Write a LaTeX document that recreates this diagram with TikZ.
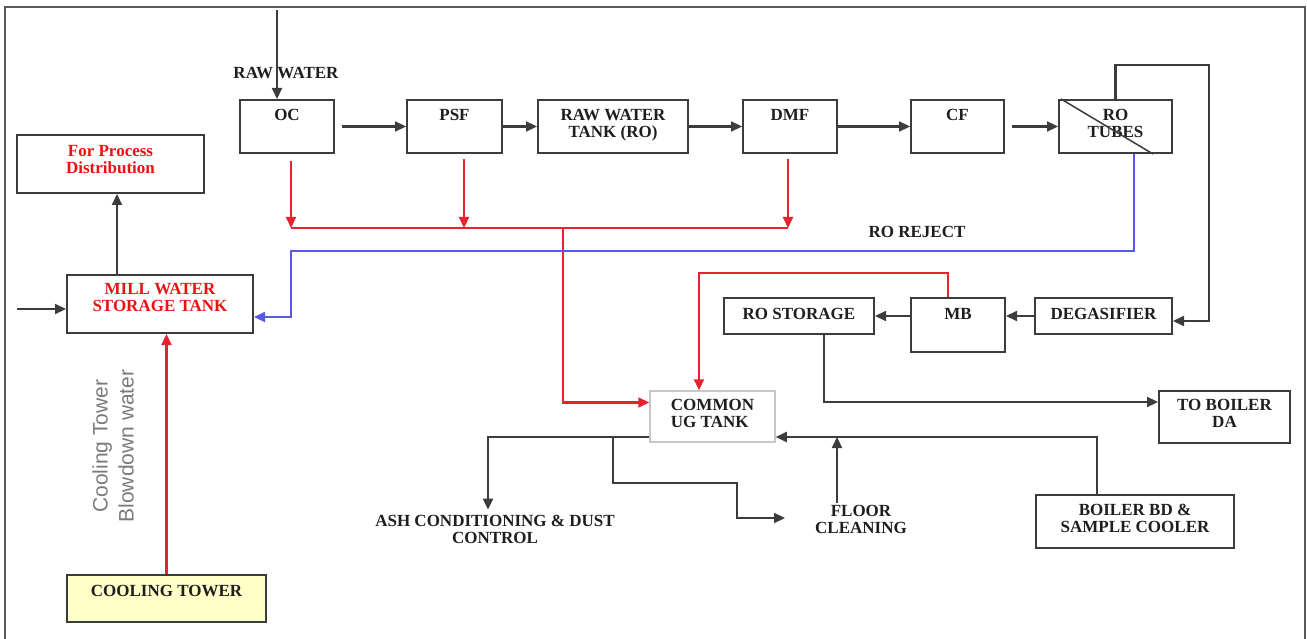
\documentclass[tikz,border=0pt]{standalone}
\usepackage{fontspec}
\setmainfont{Liberation Serif}
\setsansfont{Liberation Sans}
\usepackage{xcolor}
\usepackage{tikz}
\usetikzlibrary{calc,arrows.meta,positioning}
\definecolor{wtLine}{RGB}{60,60,60}
\definecolor{wtRed}{RGB}{232,34,46}
\definecolor{wtBlue}{RGB}{88,88,226}
\definecolor{wtText}{RGB}{30,30,30}
\definecolor{wtRedText}{RGB}{236,18,18}
\definecolor{wtYellow}{RGB}{255,255,200}
\definecolor{wtFrame}{RGB}{90,90,90}

\begin{document}
\begin{tikzpicture}[x=1pt,y=-1pt,
  blk/.style={draw=wtLine, line width=2pt, inner sep=0pt, fill=white},
  ttl/.style={anchor=north, label distance=-10pt, inner sep=0pt, align=center, text=wtText,
    font=\bfseries\fontsize{17}{17}\selectfont},
  txt/.style={inner sep=2pt, align=center, text=wtText, font=\bfseries\fontsize{17}{17}\selectfont},
  arr/.style={draw=wtLine, line width=2.2pt, -{Triangle[length=11pt,width=10pt]}},
  redarr/.style={draw=wtRed, line width=2.2pt, -{Triangle[length=11pt,width=10pt]}},
  bluearr/.style={draw=wtBlue, line width=2.2pt, -{Triangle[length=11pt,width=10pt]}}]
\useasboundingbox (0,0) rectangle (1307,639);
\draw[wtFrame, line width=2pt] (5,639) -- (5,7) -- (1305,7) -- (1305,639);

\node[blk, minimum width=94pt, minimum height=53pt, label={[ttl]north:OC}] (oc) at (287,126.5) {};
\node[blk, minimum width=95pt, minimum height=53pt, label={[ttl]north:PSF}] (psf) at (454.5,126.5) {};
\node[blk, minimum width=150pt, minimum height=53pt, label={[ttl]north:RAW WATER\\TANK (RO)}] (rwt) at (613,126.5) {};
\node[blk, minimum width=94pt, minimum height=53pt, label={[ttl]north:DMF}] (dmf) at (790,126.5) {};
\node[blk, minimum width=93pt, minimum height=53pt, label={[ttl]north:CF}] (cf) at (957.5,126.5) {};
\node[blk, minimum width=113pt, minimum height=53pt, label={[ttl]north:RO\\TUBES}] (rot) at (1115.5,126.5) {};
\draw[wtLine, line width=1.5pt] ([xshift=3pt]rot.north west) -- ([xshift=-20pt]rot.south east);

\node[blk, minimum width=187pt, minimum height=58pt, label={[ttl, label distance=-11pt, text=wtRedText]north:For Process\\Distribution}] (fpd) at (110.5,164) {};
\node[blk, minimum width=186pt, minimum height=58pt, label={[ttl, label distance=-9pt, text=wtRedText]north:MILL WATER\\STORAGE TANK}] (mill) at (160,304) {};
\node[blk, fill=wtYellow, minimum width=199pt, minimum height=47pt, label={[ttl, label distance=-11pt]north:COOLING TOWER}] (ct) at (166.5,598.5) {};

\node[blk, minimum width=137pt, minimum height=36pt, label={[ttl, label distance=-11pt]north:DEGASIFIER}] (deg) at (1103.5,316) {};
\node[blk, minimum width=94pt, minimum height=54pt, label={[ttl, label distance=-11pt]north:MB}] (mb) at (958,325) {};
\node[blk, minimum width=150pt, minimum height=36pt, label={[ttl, label distance=-11pt]north:RO STORAGE}] (ros) at (799,316) {};
\node[blk, draw=black!22, line width=1.5pt, minimum width=125pt, minimum height=51pt, label={[ttl, align=left, label distance=-9pt]north:COMMON\\UG TANK}] (ug) at (712.5,416.5) {};
\node[blk, minimum width=131pt, minimum height=52pt, label={[ttl, label distance=-9pt]north:TO BOILER\\DA}] (tbd) at (1224.5,417) {};
\node[blk, minimum width=198pt, minimum height=53pt, label={[ttl]north:BOILER BD \&\\SAMPLE COOLER}] (bbd) at (1135,521.5) {};

\node[txt] (rw) at (286,73) {RAW WATER};
\node[txt] (rej) at (917,232) {RO REJECT};
\node[txt] (ash) at (495,529) {ASH CONDITIONING \& DUST\\CONTROL};
\node[txt] (flr) at (861,519) {FLOOR\\CLEANING};
\node[rotate=90, align=center, text=black!52, font=\sffamily\fontsize{21}{26}\selectfont] (ctbd) at (113,446) {Cooling Tower\\Blowdown water};

\coordinate (rwin) at (277,10);
\draw[arr] (rwin) -- (rwin |- oc.north);
\draw[arr, shorten <=7pt] (oc.east) -- (psf.west);
\draw[arr] (psf.east) -- (rwt.west);
\draw[arr] (rwt.east) -- (dmf.west);
\draw[arr] (dmf.east) -- (cf.west);
\draw[arr, shorten <=7pt] (cf.east) -- (rot.west);

\coordinate (tr) at (1209,65);
\draw[arr] (rot.north) |- (tr) |- ([yshift=-5pt]deg.east);
\draw[arr] (deg.west) -- (deg.west -| mb.east);
\draw[arr] (mb.west |- ros.east) -- (ros.east);
\draw[arr] ([xshift=25pt]ros.south) |- ([yshift=15pt]tbd.west);

\coordinate (jo) at (291,228);
\coordinate (jp) at (464,228);
\coordinate (jm) at (563,228);
\coordinate (jd) at (788,228);
\draw[redarr, shorten <=7pt] (jo |- oc.south) -- (jo);
\draw[redarr, shorten <=5pt] (jp |- psf.south) -- (jp);
\draw[redarr, shorten <=5pt] (jd |- dmf.south) -- (jd);
\draw[wtRed, line width=2.2pt] (jo) -- (jd);
\draw[redarr] (jm) |- ([yshift=14pt]ug.west);
\draw[redarr] ([xshift=-10pt]mb.north) -- ++(0,-24) -| ([xshift=-13.5pt]ug.north);

\coordinate (bj) at (291,251);
\draw[bluearr] ([xshift=18.5pt]rot.south) |- (bj) |- ([yshift=-13pt]mill.east);

\coordinate (min) at (17,309);
\draw[arr] (min) -- (min -| mill.west);
\coordinate (mu) at ([xshift=-43pt]mill.north);
\draw[arr] (mu) -- (mu |- fpd.south);
\draw[redarr] (ct.north) -- (ct.north |- mill.south);

\coordinate (ugin) at ([yshift=-20.5pt]ug.east);
\coordinate (ugout) at ([yshift=-20.5pt]ug.west);
\coordinate (ab) at (488,437);
\coordinate (fb) at (613,437);
\coordinate (fa) at ([xshift=-24pt]flr.north);
\draw[arr] ([xshift=-38pt]bbd.north) |- (ugin);
\draw[arr] (fa) -- (fa |- ugin);
\draw[arr, shorten >=3pt] (ugout) -| (ab |- ash.north);
\draw[arr] (fb) -- ++(0,46) -| ++(124,35) -- ++(48,0);
\end{tikzpicture}
\end{document}
